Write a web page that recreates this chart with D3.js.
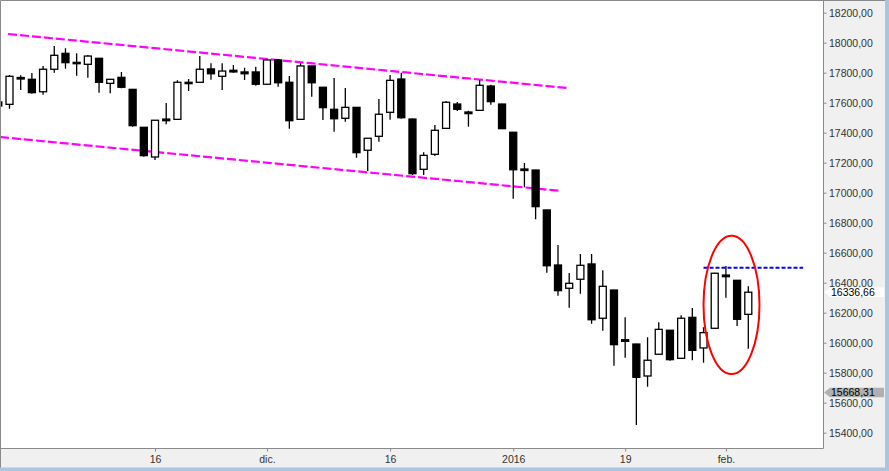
<!DOCTYPE html>
<meta charset="utf-8">
<style>

body {
  margin: 0;
}

svg {
  display: block;
  font-family: "Liberation Sans", Arial, sans-serif;
}

.panel {
  fill: #f0f0f0;
}

.plot {
  fill: #fff;
}

.frame {
  fill: none;
  stroke: #8a8a8a;
  stroke-width: 1px;
}

.edge {
  fill: #abc5de;
}

.axis .tick line {
  stroke: #8a8a8a;
}

.axis .tick text {
  fill: #333;
  font-size: 10.5px;
  font-family: "Liberation Sans", Arial, sans-serif;
}

.wick {
  stroke: #000;
  stroke-width: 1.3px;
}

.body {
  stroke: #000;
  stroke-width: 1.3px;
}

.channel {
  fill: none;
  stroke: #ff00ff;
  stroke-width: 2.2px;
  stroke-dasharray: 9,3;
}

.resistance {
  stroke: #0000ff;
  stroke-width: 2px;
  stroke-dasharray: 4,2;
}

.ring {
  fill: none;
  stroke: #ff0000;
  stroke-width: 2px;
}

.marker text {
  font-size: 10.5px;
  fill: #000;
}

</style>
<svg width="889" height="471"></svg>
<script src="https://d3js.org/d3.v7.min.js"></script>
<script>

// trading days, 27 oct 2015 .. 3 feb 2016
var dates = [
  "2015-10-27","2015-10-28","2015-10-29","2015-10-30",
  "2015-11-02","2015-11-03","2015-11-04","2015-11-05","2015-11-06","2015-11-09","2015-11-10",
  "2015-11-11","2015-11-12","2015-11-13","2015-11-16","2015-11-17","2015-11-18","2015-11-19",
  "2015-11-20","2015-11-23","2015-11-24","2015-11-25","2015-11-27","2015-11-30",
  "2015-12-01","2015-12-02","2015-12-03","2015-12-04","2015-12-07","2015-12-08","2015-12-09",
  "2015-12-10","2015-12-11","2015-12-14","2015-12-15","2015-12-16","2015-12-17","2015-12-18",
  "2015-12-21","2015-12-22","2015-12-23","2015-12-24","2015-12-28","2015-12-29","2015-12-30",
  "2015-12-31",
  "2016-01-04","2016-01-05","2016-01-06","2016-01-07","2016-01-08","2016-01-11","2016-01-12",
  "2016-01-13","2016-01-14","2016-01-15","2016-01-19","2016-01-20","2016-01-21","2016-01-22",
  "2016-01-25","2016-01-26","2016-01-27","2016-01-28","2016-01-29",
  "2016-02-01","2016-02-02","2016-02-03"
];

var opens = [
  17605,17589,17768,17756,
  17673,17823,17929,17869,17856,17896,17729,
  17769,17689,17436,17238,17491,17489,17736,
  17736,17825,17776,17816,17805,17805,
  17723,17885,17736,17489,17845,17703,17556,
  17496,17569,17283,17376,17536,17758,17491,
  17156,17256,17429,17591,17538,17549,17711,
  17591,
  17403,17158,17151,16885,16518,16363,16423,
  16525,16163,16351,16020,15991,15778,15923,
  16083,15896,16169,15965,16096,
  16451,16416,16189
];

var highs = [
  17630,17785,17783,17798,
  17845,17978,17963,17929,17918,17898,17758,
  17805,17691,17438,17485,17598,17749,17758,
  17911,17863,17863,17851,17833,17840,
  17887,17891,17778,17863,17847,17705,17765,
  17698,17571,17365,17625,17785,17800,17494,
  17269,17451,17611,17605,17547,17751,17720,
  17593,
  17405,17198,17153,16887,16651,16465,16591,
  16591,16483,16353,16169,15993,16036,16136,
  16085,16183,16231,16103,16466,
  16511,16418,16376
];

var lows = [
  17550,17560,17685,17660,
  17653,17800,17827,17780,17767,17667,17663,
  17696,17440,17240,17218,17456,17486,17678,
  17734,17753,17685,17800,17751,17713,
  17720,17707,17427,17486,17640,17485,17407,
  17473,17233,17145,17340,17487,17493,17118,
  17118,17245,17427,17545,17440,17547,17587,
  17425,
  16960,17036,16823,16467,16313,16233,16327,
  16127,16080,15847,15900,15451,15707,15921,
  15880,15894,15883,15867,16094,
  16300,16111,15960
];

var closes = [
  17578,17776,17758,17667,
  17823,17916,17867,17860,17911,17736,17756,
  17703,17447,17247,17483,17480,17736,17727,
  17823,17793,17811,17805,17793,17723,
  17885,17733,17480,17845,17733,17567,17493,
  17569,17267,17363,17523,17749,17500,17127,
  17249,17416,17603,17556,17527,17716,17607,
  17427,
  17153,17148,16907,16513,16347,16396,16516,
  16153,16376,15987,16009,15769,15883,16089,
  15887,16163,15949,16067,16463,
  16440,16156,16336.66
];

var xTickDates = ["2015-11-16", "2015-12-01", "2015-12-16", "2016-01-04", "2016-01-19", "2016-02-01"];
var xTickLabels = ["16", "dic.", "16", "2016", "19", "feb."];

var yTicks = [15400, 15600, 15800, 16000, 16200, 16400, 16600, 16800, 17000, 17200, 17400, 17600, 17800, 18000, 18200];

// drawn annotations, as [day index, value]
var channelUpper = [[0.87, 18058], [50.8, 17698]];
var channelLower = [[0.15, 17371], [50.1, 17013]];
var resistance = [[63.0, 16500], [71.9, 16500]];
var ringCenter = [65.5, 16252];
var ringRadius = [2.5, 461];

var indicatorValue = 15668.31;

var svg = d3.select("svg"),
    width = +svg.attr("width"),
    height = +svg.attr("height");

var plotRight = 823.5,
    plotBottom = 448.5;

var x = d3.scaleLinear()
    .domain([0, dates.length - 1])
    .range([-1.7, 748.3]);

var y = d3.scaleLinear()
    .domain([15400, 18200])
    .range([432.7, 12.7]);

var fmt = d3.formatLocale({decimal: ",", thousands: ".", grouping: [3], currency: ["", ""]}).format(".2f");

// background panels
svg.append("rect")
    .attr("class", "panel")
    .attr("width", width)
    .attr("height", height);

svg.append("rect")
    .attr("class", "plot")
    .attr("x", 0.5)
    .attr("y", 0.5)
    .attr("width", plotRight - 0.5)
    .attr("height", plotBottom - 0.5);

svg.append("clipPath")
    .attr("id", "clip")
  .append("rect")
    .attr("x", 1)
    .attr("y", 1)
    .attr("width", plotRight - 1)
    .attr("height", plotBottom - 1);

var plot = svg.append("g")
    .attr("clip-path", "url(#clip)");

// trend channel
var line = d3.line()
    .x(function(d) { return x(d[0]); })
    .y(function(d) { return y(d[1]); });

plot.selectAll("path.channel")
    .data([channelUpper, channelLower])
  .enter().append("path")
    .attr("class", "channel")
    .attr("d", line);

// candles
var bars = dates.map(function(d, i) {
  return {date: d, i: i, o: opens[i], h: highs[i], l: lows[i], c: closes[i]};
});

var candle = plot.selectAll("g.candle")
    .data(bars)
  .enter().append("g")
    .attr("class", "candle");

candle.append("line")
    .attr("class", "wick")
    .attr("x1", function(d) { return x(d.i); })
    .attr("x2", function(d) { return x(d.i); })
    .attr("y1", function(d) { return y(d.h); })
    .attr("y2", function(d) { return y(d.l); });

candle.append("rect")
    .attr("class", "body")
    .attr("x", function(d) { return x(d.i) - 3.5; })
    .attr("width", 7)
    .attr("y", function(d) { return y(Math.max(d.o, d.c)); })
    .attr("height", function(d) { return Math.max(Math.abs(y(d.o) - y(d.c)), 1.2); })
    .style("fill", function(d) { return d.c > d.o ? "#fff" : "#000"; });

// resistance and highlight
plot.append("line")
    .attr("class", "resistance")
    .attr("x1", x(resistance[0][0]))
    .attr("x2", x(resistance[1][0]))
    .attr("y1", y(resistance[0][1]))
    .attr("y2", y(resistance[1][1]));

plot.append("ellipse")
    .attr("class", "ring")
    .attr("cx", x(ringCenter[0]))
    .attr("cy", y(ringCenter[1]))
    .attr("rx", x(ringCenter[0] + ringRadius[0]) - x(ringCenter[0]))
    .attr("ry", y(ringCenter[1] - ringRadius[1]) - y(ringCenter[1]));

// axes
var yAxis = svg.append("g")
    .attr("class", "axis")
    .attr("transform", "translate(" + plotRight + ",0)")
    .call(d3.axisRight(y).tickValues(yTicks).tickSize(3).tickPadding(2.5).tickFormat(fmt));

var xAxis = svg.append("g")
    .attr("class", "axis")
    .attr("transform", "translate(0," + plotBottom + ")")
    .call(d3.axisBottom(x)
      .tickValues(xTickDates.map(function(d) { return dates.indexOf(d); }))
      .tickSize(3)
      .tickPadding(4.5)
      .tickFormat(function(d, i) { return xTickLabels[i]; }));

svg.selectAll(".axis .domain").remove();
svg.selectAll(".axis").attr("font-size", null).attr("font-family", null);

// value markers on the price scale
function marker(value, fill) {
  var yc = y(value);
  var g = svg.append("g").attr("class", "marker");
  g.append("path")
      .attr("d", "M" + (plotRight + 0.5) + "," + yc +
                 "L" + (plotRight + 6.5) + "," + (yc - 4.7) +
                 "L" + (width - 5) + "," + (yc - 4.7) +
                 "L" + (width - 5) + "," + (yc + 4.7) +
                 "L" + (plotRight + 6.5) + "," + (yc + 4.7) + "Z")
      .style("fill", fill);
  g.append("text")
      .attr("x", plotRight + 7.5)
      .attr("y", yc)
      .attr("dy", "0.35em")
      .text(fmt(value));
}

marker(closes[closes.length - 1], "#fff");
marker(indicatorValue, "#b0b0b0");

// frame
svg.append("path")
    .attr("class", "frame")
    .attr("d", "M0.5," + height + "V0.5H" + width);

svg.append("path")
    .attr("class", "frame")
    .attr("d", "M0.5," + plotBottom + "H" + plotRight + "V0.5");

svg.append("rect")
    .attr("class", "edge")
    .attr("x", width - 4)
    .attr("y", 0)
    .attr("width", 4)
    .attr("height", height);

svg.append("rect")
    .attr("class", "edge")
    .attr("x", 0)
    .attr("y", height - 3.5)
    .attr("width", width)
    .attr("height", 3.5);

</script>
